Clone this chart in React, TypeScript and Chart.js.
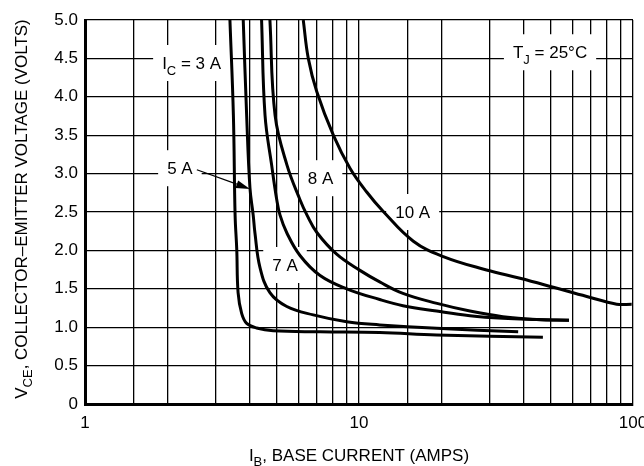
import React, { useEffect, useRef } from 'react';
import { Chart, registerables } from 'chart.js';

Chart.register(...registerables);

// ---- data ----
const xGridValues = [1, 1.5, 2, 3, 4, 5, 6, 7, 8, 9, 10, 15, 20, 30, 40, 50, 60, 70, 80, 90, 100];
const xLabeledValues = [1, 10, 100];
const yTickValues = [0, 0.5, 1, 1.5, 2, 2.5, 3, 3.5, 4, 4.5, 5];

const ic3X = [3.38, 3.48, 3.53, 3.58, 3.62, 3.73, 3.89, 4.23, 4.86, 7.21, 11.9, 19.2, 46.9];
const ic3Y = [5.0, 3.76, 2.46, 2.01, 1.45, 1.18, 1.05, 0.99, 0.954, 0.94, 0.93, 0.9, 0.87];

const ic5X = [3.78, 3.89, 4.0, 4.11, 4.17, 4.35, 4.73, 5.45, 6.81, 9.02, 11.9, 19.2, 38.1];
const ic5Y = [5.0, 3.76, 2.81, 2.46, 2.23, 1.78, 1.45, 1.27, 1.16, 1.07, 1.03, 0.985, 0.94];

const ic7X = [4.41, 4.54, 4.8, 5.01, 5.15, 5.45, 6.09, 7.21, 9.02, 11.9, 14.47, 19.2, 25.4, 33.5, 44.5, 58.4];
const ic7Y = [5.0, 3.76, 3.11, 2.66, 2.46, 2.23, 1.934, 1.673, 1.5, 1.36, 1.28, 1.21, 1.15, 1.116, 1.1, 1.09];

const ic8X = [4.73, 4.94, 5.46, 6.09, 6.46, 7.03, 8.31, 10.08, 11.9, 14.47, 19.26, 25.4, 33.5, 44.5, 58.4];
const ic8Y = [5.0, 3.76, 3.11, 2.66, 2.46, 2.23, 1.947, 1.74, 1.59, 1.44, 1.31, 1.21, 1.137, 1.1, 1.09];

const ic10X = [6.26, 6.53, 7.01, 8.06, 9.27, 10.67, 12.24, 15.79, 20.3, 29.2, 38.7, 51.2, 67.8, 87.2, 98.9];
const ic10Y = [5.0, 4.5, 4.07, 3.5, 3.07, 2.76, 2.51, 2.12, 1.92, 1.745, 1.637, 1.52, 1.4, 1.3, 1.3];

// curve labels: text segments ([text, isSubscript]) and anchor in data coordinates
const labelTexts: Array<Array<[string, boolean]>> = [
  [['I', false], ['C', true], [' = 3 A', false]],
  [['T', false], ['J', true], [' = 25°C', false]],
  [['5 A', false]],
  [['7 A', false]],
  [['8 A', false]],
  [['10 A', false]],
];
const labelAnchorX = [2.45, 49.8, 2.22, 5.37, 7.24, 15.7];
const labelAnchorY = [4.44, 4.58, 3.07, 1.81, 2.94, 2.5];

// arrow for "5 A" (data coordinates)
const arrowFrom = [2.56, 3.05];
const arrowTo = [4.0, 2.8];

const yTitle: Array<[string, boolean]> = [['V', false], ['CE', true], [', COLLECTOR–EMITTER VOLTAGE (VOLTS)', false]];
const xTitle: Array<[string, boolean]> = [['I', false], ['B', true], [', BASE CURRENT (AMPS)', false]];

const FONT = '"Liberation Sans", Arial, Helvetica, sans-serif';

function toPoints(xs: number[], ys: number[]) {
  return xs.map((x, i) => ({ x, y: ys[i] }));
}

function richWidth(ctx: CanvasRenderingContext2D, segs: Array<[string, boolean]>, fs: number) {
  let w = 0;
  for (const [t, sub] of segs) {
    ctx.font = `${sub ? Math.round(fs * 0.78) : fs}px ${FONT}`;
    w += ctx.measureText(t).width;
  }
  return w;
}

function richDraw(ctx: CanvasRenderingContext2D, segs: Array<[string, boolean]>, cx: number, baseline: number, fs: number) {
  const w = richWidth(ctx, segs, fs);
  let x = cx - w / 2;
  ctx.textAlign = 'left';
  ctx.textBaseline = 'alphabetic';
  for (const [t, sub] of segs) {
    ctx.font = `${sub ? Math.round(fs * 0.78) : fs}px ${FONT}`;
    ctx.fillText(t, x, baseline + (sub ? fs * 0.32 : 0));
    x += ctx.measureText(t).width;
  }
  return w;
}

const annotationPlugin = {
  id: 'annotations',
  beforeDatasetsDraw(chart: any) {
    const ctx: CanvasRenderingContext2D = chart.ctx;
    const xs = chart.scales.x;
    const ys = chart.scales.y;
    const fs = 17;
    ctx.save();
    labelTexts.forEach((segs, i) => {
      const cx = xs.getPixelForValue(labelAnchorX[i]);
      const cy = ys.getPixelForValue(labelAnchorY[i]);
      const w = richWidth(ctx, segs, fs);
      ctx.fillStyle = '#fff';
      ctx.fillRect(cx - w / 2 - 9, cy - 18, w + 18, 36);
      ctx.fillStyle = '#000';
      richDraw(ctx, segs, cx, cy + fs * 0.36, fs);
    });
    // arrow
    const x0 = xs.getPixelForValue(arrowFrom[0]);
    const y0 = ys.getPixelForValue(arrowFrom[1]);
    const x1 = xs.getPixelForValue(arrowTo[0]);
    const y1 = ys.getPixelForValue(arrowTo[1]);
    const ang = Math.atan2(y1 - y0, x1 - x0);
    const len = 14;
    const hw = 4;
    ctx.strokeStyle = '#000';
    ctx.lineWidth = 1.3;
    ctx.beginPath();
    ctx.moveTo(x0, y0);
    ctx.lineTo(x1 - Math.cos(ang) * len, y1 - Math.sin(ang) * len);
    ctx.stroke();
    ctx.beginPath();
    ctx.moveTo(x1, y1);
    ctx.lineTo(x1 - Math.cos(ang) * len - Math.sin(ang) * hw, y1 - Math.sin(ang) * len + Math.cos(ang) * hw);
    ctx.lineTo(x1 - Math.cos(ang) * len + Math.sin(ang) * hw, y1 - Math.sin(ang) * len - Math.cos(ang) * hw);
    ctx.closePath();
    ctx.fillStyle = '#000';
    ctx.fill();
    ctx.restore();
  },
  afterDraw(chart: any) {
    const ctx: CanvasRenderingContext2D = chart.ctx;
    const area = chart.chartArea;
    const fs = 17;
    ctx.save();
    ctx.fillStyle = '#000';
    // x title
    richDraw(ctx, xTitle, (area.left + area.right) / 2, 461, fs);
    // y title
    ctx.translate(27, (area.top + area.bottom) / 2 - 3);
    ctx.rotate(-Math.PI / 2);
    richDraw(ctx, yTitle, 0, 0, fs);
    ctx.restore();
  },
};

export default function App() {
  const canvasRef = useRef<HTMLCanvasElement | null>(null);

  useEffect(() => {
    if (!canvasRef.current) return;
    const mk = (xs: number[], ys: number[]) => ({
      data: toPoints(xs, ys),
      borderColor: '#000',
      borderWidth: 3,
      pointRadius: 0,
      fill: false,
      tension: 0.4,
      borderCapStyle: 'butt' as const,
    });
    const chart = new Chart(canvasRef.current, {
      type: 'line',
      data: {
        datasets: [
          mk(ic3X, ic3Y),
          mk(ic5X, ic5Y),
          mk(ic7X, ic7Y),
          mk(ic8X, ic8Y),
          mk(ic10X, ic10Y),
        ],
      },
      options: {
        animation: false,
        responsive: false,
        devicePixelRatio: 1,
        layout: { padding: { top: 20, right: 11, left: 0, bottom: 0 } },
        plugins: {
          legend: { display: false },
          tooltip: { enabled: false },
          title: { display: false },
        },
        scales: {
          x: {
            type: 'logarithmic',
            min: 1,
            max: 100,
            afterBuildTicks: (scale: any) => {
              scale.ticks = xGridValues.map((v) => ({ value: v }));
            },
            afterFit: (scale: any) => {
              scale.height = 62;
              scale.paddingLeft = 0;
              scale.paddingRight = 0;
            },
            grid: { color: '#000', lineWidth: 1.3, drawTicks: false },
            border: { display: true, color: '#000', width: 3 },
            ticks: {
              autoSkip: false,
              maxRotation: 0,
              padding: 9,
              color: '#000',
              font: { family: FONT, size: 17 },
              callback: (v: any) => (xLabeledValues.includes(Number(v)) ? String(v) : ''),
            },
          },
          y: {
            type: 'linear',
            min: 0,
            max: 5,
            afterBuildTicks: (scale: any) => {
              scale.ticks = yTickValues.map((v) => ({ value: v }));
            },
            afterFit: (scale: any) => {
              scale.width = 85;
              scale.paddingTop = 0;
              scale.paddingBottom = 0;
            },
            grid: { color: '#000', lineWidth: 1.3, drawTicks: false },
            border: { display: true, color: '#000', width: 3 },
            ticks: {
              padding: 7,
              color: '#000',
              font: { family: FONT, size: 17 },
              callback: (v: any) => (Number(v) === 0 ? '0' : Number(v).toFixed(1)),
            },
          },
        },
      },
      plugins: [annotationPlugin],
    });
    return () => chart.destroy();
  }, []);

  return (
    <div style={{ position: 'absolute', left: 0, top: 0, width: 644, height: 466, background: '#fff' }}>
      <canvas ref={canvasRef} width={644} height={466} style={{ width: 644, height: 466, display: 'block' }} />
    </div>
  );
}
